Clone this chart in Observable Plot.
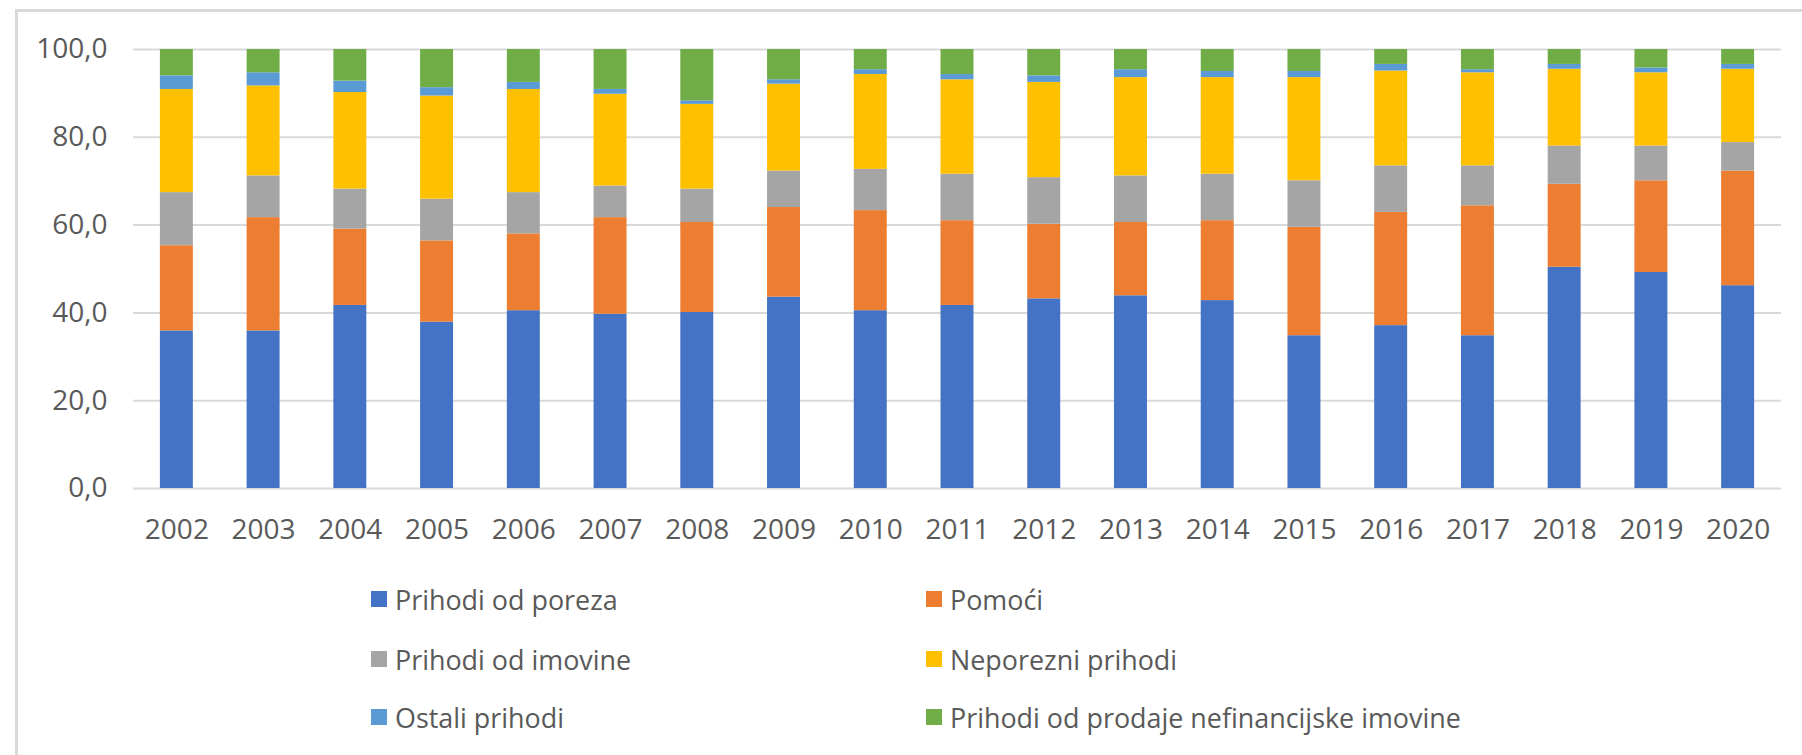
<!DOCTYPE html>
<html>
<head>
<meta charset="utf-8">
<script src="https://cdn.jsdelivr.net/npm/d3@7"></script>
<script src="https://cdn.jsdelivr.net/npm/@observablehq/plot@0.6"></script>
<style>
  html, body { margin: 0; padding: 0; background: #fff; }
  #wrap { position: relative; width: 1802px; height: 755px; overflow: hidden; background: #fff; font-family: "Open Sans", sans-serif; }
  #frame { position: absolute; left: 15px; top: 9px; width: 1800px; height: 760px; border-left: 3px solid #d9d9d9; border-top: 3px solid #d9d9d9; box-sizing: border-box; }
  #chart { position: absolute; left: 0; top: 0; }
  #legend { position: absolute; left: 0; top: 0; width: 1802px; height: 755px; pointer-events: none; }
  .item { position: absolute; display: flex; align-items: center; font-size: 26.9px; color: #595959; white-space: nowrap; height: 36px; }
  .sw { width: 16px; height: 16px; margin-right: 8px; flex: none; }
</style>
</head>
<body>
<div id="wrap">
  <div id="frame"></div>
  <div id="chart"></div>
  <div id="legend"></div>
</div>
<script>
const years = ["2002","2003","2004","2005","2006","2007","2008","2009","2010","2011","2012","2013","2014","2015","2016","2017","2018","2019","2020"];
const seriesNames = ["Prihodi od poreza","Pomoći","Prihodi od imovine","Neporezni prihodi","Ostali prihodi","Prihodi od prodaje nefinancijske imovine"];
const seriesColors = ["#4472C4","#ED7D31","#A5A5A5","#FFC000","#5B9BD5","#70AD47"];

const prihodiOdPoreza = [35.9,35.9,41.7,37.9,40.5,39.7,40.1,43.6,40.5,41.7,43.2,43.9,42.8,34.8,37.1,34.8,50.4,49.2,46.2];
const pomoci          = [19.4,25.8,17.4,18.5,17.5,22.0,20.5,20.4,22.8,19.3,17.0,16.7,18.2,24.7,25.8,29.6,18.9,20.9,26.1];
const prihodiOdImovine= [12.1,9.5,9.1,9.5,9.4,7.2,7.6,8.3,9.4,10.6,10.6,10.6,10.6,10.6,10.6,9.1,8.7,7.9,6.5];
const neporezniPrihodi= [23.5,20.5,22.0,23.5,23.5,20.9,19.3,19.8,21.6,21.5,21.7,22.4,22.0,23.5,21.6,21.2,17.5,16.7,16.7];
const ostaliPrihodi   = [3.1,3.0,2.6,1.9,1.6,1.1,0.8,1.0,1.1,1.2,1.5,1.8,1.4,1.4,1.5,0.7,1.1,1.1,1.1];
const prodajaImovine  = [6.0,5.3,7.2,8.7,7.5,9.1,11.7,6.9,4.6,5.7,6.0,4.6,5.0,5.0,3.4,4.6,3.4,4.2,3.4];

const yTicks = [0,20,40,60,80,100];

const seriesValues = [prihodiOdPoreza, pomoci, prihodiOdImovine, neporezniPrihodi, ostaliPrihodi, prodajaImovine];
const data = [];
seriesNames.forEach((s, si) => {
  years.forEach((y, yi) => data.push({year: y, series: s, value: seriesValues[si][yi]}));
});

const fmt = d => d.toFixed(1).replace(".", ",");

const chart = Plot.plot({
  width: 1802,
  height: 560,
  marginTop: 49,
  marginBottom: 72,
  marginLeft: 133,
  marginRight: 21,
  style: {fontFamily: "'Open Sans', sans-serif", fontSize: "28px", color: "#595959", background: "transparent"},
  x: {domain: years, paddingInner: 0.62, paddingOuter: 0.31, round: false, label: null},
  y: {domain: [0, 100], label: null},
  color: {domain: seriesNames, range: seriesColors},
  marks: [
    Plot.ruleY(yTicks, {stroke: "#d9d9d9", strokeWidth: 2}),
    Plot.barY(data, {x: "year", y: "value", fill: "series", order: seriesNames, inset: 0}),
    Plot.axisY({ticks: yTicks, tickSize: 0, tickPadding: 26, tickFormat: fmt, fill: "#595959"}),
    Plot.axisX({tickSize: 0, tickPadding: 31, fill: "#595959"})
  ]
});
document.getElementById("chart").appendChild(chart);

// Legend (3 rows x 2 columns)
const legend = document.getElementById("legend");
const colX = [371, 926];
const rowY = [599, 659, 717];
seriesNames.forEach((s, i) => {
  const col = i % 2, row = Math.floor(i / 2);
  const item = document.createElement("div");
  item.className = "item";
  item.style.left = colX[col] + "px";
  item.style.top = (rowY[row] - 18) + "px";
  const sw = document.createElement("span");
  sw.className = "sw";
  sw.style.background = seriesColors[i];
  const t = document.createElement("span");
  t.textContent = s;
  item.appendChild(sw);
  item.appendChild(t);
  legend.appendChild(item);
});
</script>
</body>
</html>
